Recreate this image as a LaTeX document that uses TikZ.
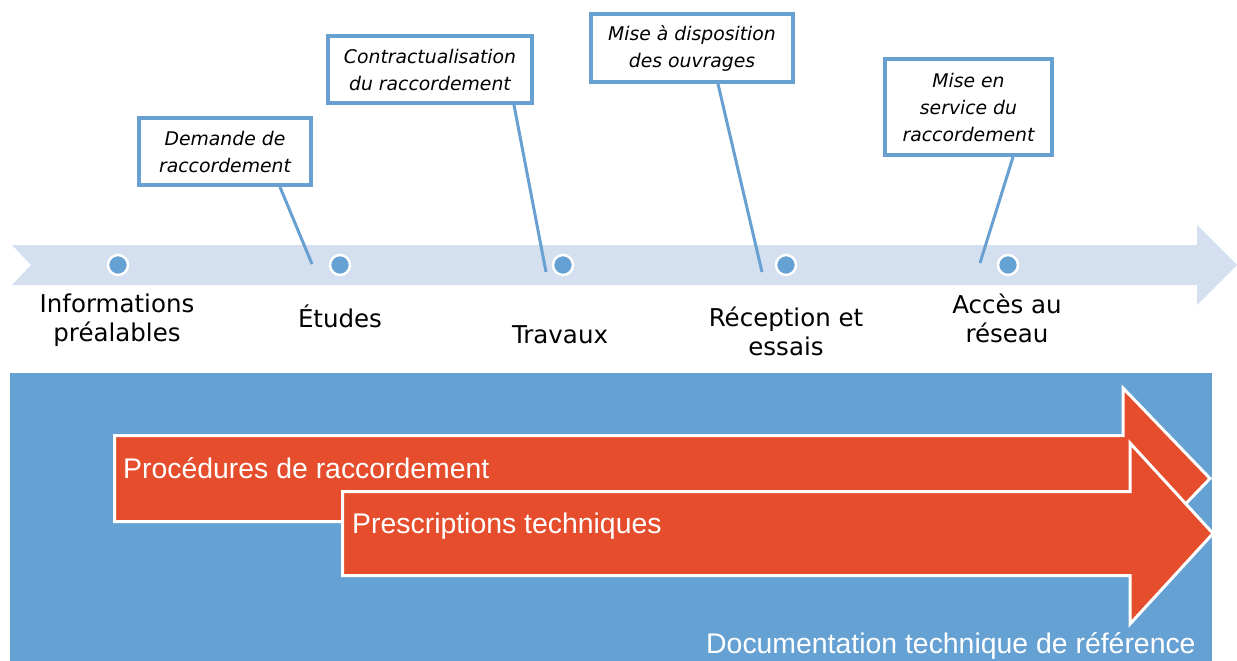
\documentclass[tikz,border=0pt]{standalone}
\usepackage{fontspec}
\newfontfamily\lblfont{DejaVu Sans}
\newfontfamily\arialfont{Liberation Sans}
\usetikzlibrary{calc}
\definecolor{bandblue}{RGB}{212,224,239}
\definecolor{midblue}{RGB}{102,161,211}
\definecolor{linkblue}{RGB}{105,160,210}
\definecolor{orangered}{RGB}{230,77,44}
\begin{document}
\begin{tikzpicture}[x=1pt,y=-1pt,
  dot/.style={circle,inner sep=0pt,minimum size=20pt,fill=midblue,draw=white,line width=2.5pt},
  stage/.style={font=\lblfont\fontsize{24.5}{28.5}\selectfont,align=center,inner sep=0pt,anchor=base,text=black},
  callout/.style={draw=linkblue,line width=4pt,fill=white,align=center,inner sep=0pt,font=\lblfont\itshape\fontsize{18.8}{27}\selectfont},
  conn/.style={draw=linkblue,line width=3pt},
  bigarrow/.style={fill=orangered,draw=white,line width=3pt,line join=miter},
  arrowtext/.style={font=\arialfont\fontsize{28.4}{32}\selectfont,text=white,inner sep=0pt,anchor=base west}
]
\useasboundingbox (0,0) rectangle (1237,661);

% timeline band
\fill[bandblue] (12,245) -- (1197,245) -- (1197,225) -- (1237,265) -- (1197,305) -- (1197,285) -- (12,285) -- (31,265) -- cycle;

% milestones
\node[dot] (d1) at (118,265) {};
\node[dot] (d2) at (340,265) {};
\node[dot] (d3) at (563,265) {};
\node[dot] (d4) at (786,265) {};
\node[dot] (d5) at (1008,265) {};

% stage labels (base anchor = last line baseline)
\node[stage] (l1) at (117,341) {Informations\\préalables};
\node[stage] (l2) at (340,327) {Études};
\node[stage] (l3) at (560,343) {Travaux};
\node[stage] (l4) at (786,355) {Réception et\\essais};
\node[stage] (l5) at (1007,342) {Accès au\\réseau};

% callouts
\node[callout,minimum width=172pt,minimum height=67pt] (b1) at (225,151.5) {Demande de\\raccordement};
\node[callout,minimum width=204pt,minimum height=67pt] (b2) at (430,69.5) {Contractualisation\\du raccordement};
\node[callout,minimum width=202pt,minimum height=68pt] (b3) at (692,48) {Mise à disposition\\des ouvrages};
\node[callout,minimum width=167pt,minimum height=96pt] (b4) at (968.5,107) {Mise en\\service du\\raccordement};

\coordinate (p1) at (312,264);
\coordinate (p2) at (546,272);
\coordinate (p3) at (762,272);
\coordinate (p4) at (980,263);

\draw[conn] ($(b1.south)+(55,0)$) -- (p1);
\draw[conn] ($(b2.south)+(84,0)$) -- (p2);
\draw[conn] ($(b3.south)+(26,0)$) -- (p3);
\draw[conn] ($(b4.south)+(44.5,0)$) -- (p4);

% documentation block
\fill[midblue] (10,373) rectangle (1212,661);

\draw[bigarrow] (114.5,435.5) -- (1123,435.5) -- (1123,388) -- (1210,478.5) -- (1123,569) -- (1123,521.5) -- (114.5,521.5) -- cycle;
\node[arrowtext] (t1) at (123,478) {Procédures de raccordement};

\draw[bigarrow] (342.5,491.5) -- (1130,491.5) -- (1130,443) -- (1213,533.5) -- (1130,624) -- (1130,575.5) -- (342.5,575.5) -- cycle;
\node[arrowtext] (t2) at (352,533) {Prescriptions techniques};

\node[arrowtext] (t3) at (706,653) {Documentation technique de référence};
\end{tikzpicture}
\end{document}
